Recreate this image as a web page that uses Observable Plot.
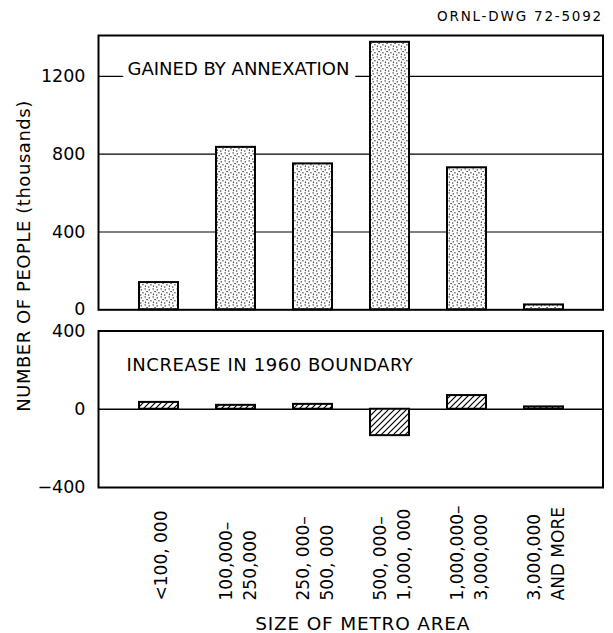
<!DOCTYPE html>
<html>
<head>
<meta charset="utf-8">
<script src="https://cdn.jsdelivr.net/npm/d3@7"></script>
<script src="https://cdn.jsdelivr.net/npm/@observablehq/plot@0.6"></script>
<style>
  html, body { margin: 0; padding: 0; background: #fff; }
  #wrap { position: relative; width: 613px; height: 633px; overflow: hidden; font-family: "DejaVu Sans", sans-serif; color: #000; }
  #wrap > .abs { position: absolute; }
  #dwg { right: 10px; top: 8px; font-size: 13.5px; letter-spacing: 1.8px; line-height: 16px; white-space: nowrap; }
  #ytitle { left: 24px; top: 256px; font-size: 18px; letter-spacing: 0.55px; white-space: nowrap; transform: translate(-50%, -50%) rotate(-90deg); line-height: 20px; }
</style>
</head>
<body>
<svg width="0" height="0" style="position:absolute">
  <defs>
    <pattern id="dots" patternUnits="userSpaceOnUse" width="8" height="8">
      <rect x="0" y="0" width="8" height="8" fill="#fff"/>
      <rect x="0.6" y="0.4" width="1.1" height="1.1" fill="#000"/>
      <rect x="4.7" y="1.3" width="1.1" height="1.1" fill="#000"/>
      <rect x="2.5" y="3.0" width="1.1" height="1.1" fill="#000"/>
      <rect x="6.4" y="4.2" width="1.1" height="1.1" fill="#000"/>
      <rect x="0.9" y="5.6" width="1.1" height="1.1" fill="#000"/>
      <rect x="4.2" y="6.5" width="1.1" height="1.1" fill="#000"/>
    </pattern>
    <pattern id="hatch" patternUnits="userSpaceOnUse" width="6" height="6">
      <rect x="0" y="0" width="6" height="6" fill="#fff"/>
      <path d="M-1,1 l2,-2 M0,6 l6,-6 M5,7 l2,-2" stroke="#000" stroke-width="1.2"/>
    </pattern>
  </defs>
</svg>
<div id="wrap">
  <div class="abs" id="dwg">ORNL-DWG 72-5092</div>
  <div class="abs" id="ytitle">NUMBER OF PEOPLE (thousands)</div>
  <div class="abs" id="top" style="left:0;top:0"></div>
  <div class="abs" id="bottom" style="left:0;top:312px"></div>
</div>
<script>
// ---- data ----
const sizeLabels = [
  "<100, 000",
  "100,000–\n250,000",
  "250, 000–\n500, 000",
  "500, 000–\n1,000, 000",
  "1,000,000–\n3,000,000",
  "3,000,000\nAND MORE"
];
const gainedByAnnexation = [140, 835, 750, 1375, 730, 25];
const increaseIn1960Boundary = [35, 20, 25, -135, 70, 12];
const topTicks = [0, 400, 800, 1200];
const topGrid = [400, 800, 1200];
const bottomTicks = [-400, 0, 400];
const topLabel = "GAINED BY ANNEXATION";
const bottomLabel = "INCREASE IN 1960 BOUNDARY";
const xTitle = "SIZE OF METRO AREA";

const topData = sizeLabels.map((s, i) => ({size: s, value: gainedByAnnexation[i]}));
const bottomData = sizeLabels.map((s, i) => ({size: s, value: increaseIn1960Boundary[i]}));

const fmt = d => d < 0 ? "−" + Math.abs(d) : String(d);
const baseStyle = {fontFamily: "DejaVu Sans, sans-serif", fontSize: "17.5px", background: "transparent", color: "#000", overflow: "visible"};

const topPlot = Plot.plot({
  width: 613,
  height: 312,
  marginLeft: 98,
  marginRight: 10.5,
  marginTop: 35,
  marginBottom: 2.7,
  style: baseStyle,
  x: {domain: sizeLabels, padding: 0.5, axis: null},
  y: {domain: [0, 1410], label: null, axis: null},
  marks: [
    Plot.gridY(topGrid, {stroke: "#000", strokeOpacity: 1, strokeWidth: 1.2}),
    Plot.text([topLabel], {frameAnchor: "left", y: () => 1200, dx: 29, dy: -1.5, textAnchor: "start", lineAnchor: "bottom",
      fontSize: 18, fill: "#000", stroke: "#fff", strokeWidth: 15, paintOrder: "stroke"}),
    Plot.barY(topData, {x: "size", y: "value", fill: "url(#dots)", stroke: "#000", strokeWidth: 2}),
    Plot.axisY(topTicks, {tickSize: 0, tickPadding: 13, tickFormat: fmt, label: null}),
    Plot.frame({stroke: "#000", strokeWidth: 2})
  ]
});
document.getElementById("top").append(topPlot);

const bottomPlot = Plot.plot({
  width: 613,
  height: 321,
  marginLeft: 98,
  marginRight: 10.5,
  marginTop: 18.5,
  marginBottom: 146,
  style: baseStyle,
  x: {domain: sizeLabels, padding: 0.5, axis: null},
  y: {domain: [-400, 400], label: null, axis: null},
  marks: [
    Plot.ruleY([0], {stroke: "#000", strokeWidth: 1.5}),
    Plot.text([bottomLabel], {frameAnchor: "top-left", dx: 28, dy: 40, textAnchor: "start", lineAnchor: "bottom", fontSize: 18, fill: "#000"}),
    Plot.barY(bottomData, {x: "size", y: "value", fill: "url(#hatch)", stroke: "#000", strokeWidth: 2}),
    Plot.axisY(bottomTicks, {tickSize: 0, tickPadding: 13, tickFormat: fmt, label: null}),
    Plot.frame({stroke: "#000", strokeWidth: 2}),
    Plot.text(sizeLabels, {x: d => d, frameAnchor: "bottom", dy: 113, rotate: -90, textAnchor: "start", lineAnchor: "middle",
      lineHeight: 1.41, fontSize: 17, fill: "#000"}),
    Plot.text([xTitle], {frameAnchor: "bottom", dx: 12, dy: 142, textAnchor: "middle", lineAnchor: "bottom", fontSize: 18.5, fill: "#000"})
  ]
});
// letter spacing for the lettered panel captions
d3.select(bottomPlot).selectAll("text")
  .filter(function() { return this.textContent === bottomLabel; })
  .attr("letter-spacing", "0.55px");
d3.select(bottomPlot).selectAll("text")
  .filter(function() { return this.textContent === xTitle; })
  .attr("letter-spacing", "0.8px");
document.getElementById("bottom").append(bottomPlot);
</script>
</body>
</html>
